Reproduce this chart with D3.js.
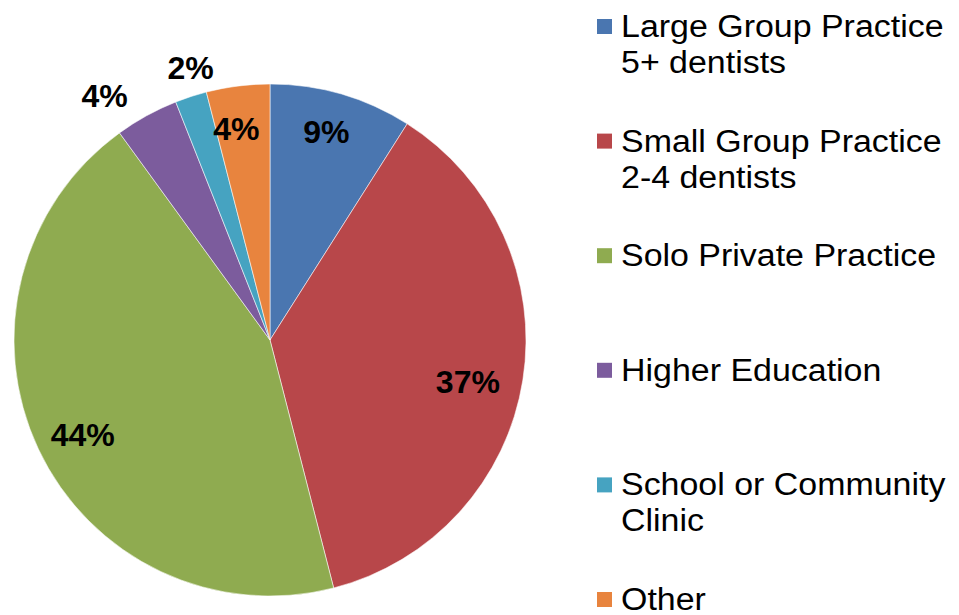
<!DOCTYPE html>
<html>
<head>
<meta charset="utf-8">
<script src="https://cdn.jsdelivr.net/npm/d3@7/dist/d3.min.js"></script>
<style>
  html, body { margin: 0; padding: 0; background: #ffffff; }
  svg { display: block; }
  text { font-family: Arial, "Liberation Sans", sans-serif; fill: #000; }
</style>
</head>
<body>
<svg id="chart" width="959" height="615"></svg>
<script>
// Practice setting shares (percent), drawn clockwise from 12 o'clock
const categories = [
  ["Large Group Practice", "5+ dentists"],
  ["Small Group Practice", "2-4 dentists"],
  ["Solo Private Practice"],
  ["Higher Education"],
  ["School or Community", "Clinic"],
  ["Other"]
];
const values = [9, 37, 44, 4, 2, 4];
const colors = ["#4a76b0", "#b8474a", "#8fab50", "#7c5c9d", "#46a3c1", "#e8843e"];
// thin slices get their labels outside the pie
const outsideLabel = [false, false, false, true, true, false];
// small per-label nudges (px) away from the computed anchor point
const labelNudge = [[-3, -4], [-12, 9], [5, 5], [-26, 9], [10, 3], [-7, 0]];

const svg = d3.select("#chart");
const cx = 270, cy = 340, r = 256;

const pie = d3.pie().sort(null).value(d => d);
const arcs = pie(values);
const arc = d3.arc().innerRadius(0).outerRadius(r);
const inLabel = d3.arc().innerRadius(r * 0.83).outerRadius(r * 0.83);
const outLabel = d3.arc().innerRadius(r * 1.13).outerRadius(r * 1.13);

const g = svg.append("g").attr("transform", `translate(${cx},${cy})`);

g.selectAll("path.slice")
  .data(arcs)
  .enter().append("path")
  .attr("class", "slice")
  .attr("d", arc)
  .attr("fill", (d, i) => colors[i])
  .attr("stroke", "rgba(255,255,255,0.55)")
  .attr("stroke-width", 1);

g.selectAll("text.pct")
  .data(arcs)
  .enter().append("text")
  .attr("class", "pct")
  .attr("transform", (d, i) => {
    const [x, y] = (outsideLabel[i] ? outLabel : inLabel).centroid(d);
    return `translate(${x + labelNudge[i][0]},${y + labelNudge[i][1]})`;
  })
  .attr("text-anchor", "middle")
  .attr("dominant-baseline", "central")
  .style("font-size", "32px")
  .style("font-weight", "bold")
  .text(d => d.value + "%");

// Legend
const legend = svg.append("g").attr("transform", "translate(597,37)");
const item = legend.selectAll("g.item")
  .data(categories)
  .enter().append("g")
  .attr("class", "item")
  .attr("transform", (d, i) => `translate(0,${i * 114.6})`);

item.append("rect")
  .attr("x", 0).attr("y", -18)
  .attr("width", 15).attr("height", 15)
  .attr("fill", (d, i) => colors[i]);

item.each(function (lines) {
  const t = d3.select(this).append("text")
    .attr("transform", "translate(24,0) scale(1.095,1)")
    .style("font-size", "31px");
  lines.forEach((ln, j) => {
    t.append("tspan").attr("x", 0).attr("dy", j === 0 ? 0 : 36).text(ln);
  });
});
</script>
</body>
</html>
